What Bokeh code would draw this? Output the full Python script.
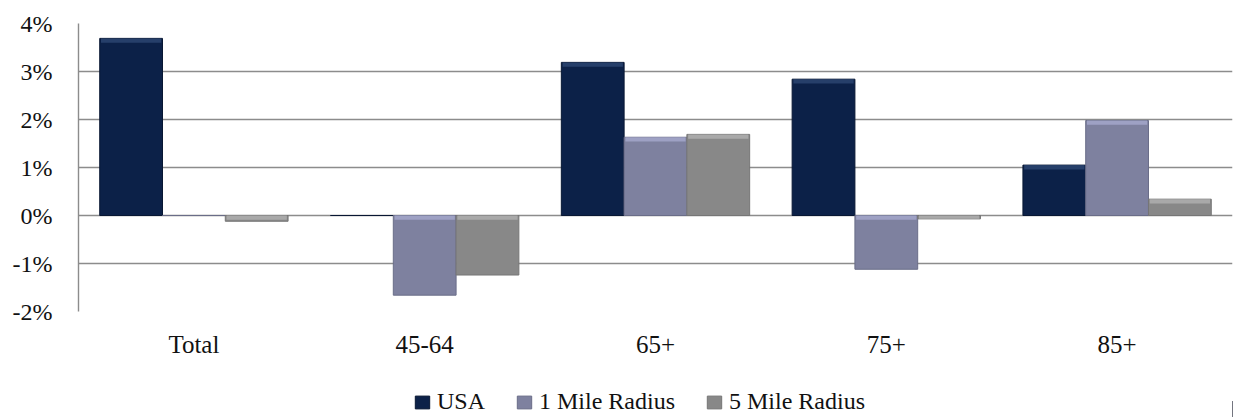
from bokeh.plotting import figure
from bokeh.layouts import column
from bokeh.models import ColumnDataSource, FactorRange, Legend, LegendItem, PrintfTickFormatter, FixedTicker
from bokeh.transform import dodge
from bokeh.embed import file_html
from bokeh.resources import INLINE

categories = ["Total", "45-64", "65+", "75+", "85+"]
usa = [3.69, 0.0, 3.19, 2.84, 1.05]
mile1 = [0.0, -1.66, 1.63, -1.12, 1.98]
mile5 = [-0.12, -1.24, 1.69, -0.07, 0.34]
series_names = ["USA", "1 Mile Radius", "5 Mile Radius"]
colors = ["#0c2148", "#7e819f", "#888888"]
edge_colors = ["#081733", "#6a6d88", "#767676"]
highlight_colors = ["#2f4a75", "#a9acd0", "#b4b4b4"]
y_ticks = [-2, -1, 0, 1, 2, 3, 4]

FONT = "Liberation Serif"
BAR_W = 0.272
BEVEL = 0.09

data = dict(cat=categories, usa=usa, mile1=mile1, mile5=mile5)
for key in ["usa", "mile1", "mile5"]:
    tops = [max(v, 0.0) for v in data[key]]
    data[key + "_hl_top"] = tops
    data[key + "_hl_bot"] = [t - min(BEVEL, abs(v)) for t, v in zip(tops, data[key])]
src = ColumnDataSource(data)

p = figure(width=1251, height=385, x_range=FactorRange(*categories), y_range=(-2, 4),
           output_backend="svg", toolbar_location=None,
           min_border_left=78, min_border_right=19, min_border_top=23, min_border_bottom=74)
p.outline_line_color = None
p.background_fill_color = "white"

for key, off, col, ec, hc in zip(["usa", "mile1", "mile5"], [-BAR_W, 0.0, BAR_W],
                                 colors, edge_colors, highlight_colors):
    p.vbar(x=dodge("cat", off, range=p.x_range), top=key, bottom=0, width=BAR_W,
           source=src, fill_color=col, line_color=ec, line_width=1)
    p.vbar(x=dodge("cat", off, range=p.x_range), top=key + "_hl_top", bottom=key + "_hl_bot",
           width=BAR_W * 0.96, source=src, fill_color=hc, fill_alpha=0.75, line_color=None)

p.xgrid.grid_line_color = None
p.ygrid.grid_line_color = "#8c8c8c"
p.ygrid.grid_line_width = 1.4
p.ygrid.ticker = FixedTicker(ticks=y_ticks)

p.yaxis.ticker = FixedTicker(ticks=y_ticks)
p.yaxis.formatter = PrintfTickFormatter(format="%d%%")
p.yaxis.axis_line_color = "#8c8c8c"
p.yaxis.axis_line_width = 1.4
p.yaxis.major_tick_line_color = None
p.yaxis.minor_tick_line_color = None
p.yaxis.major_label_standoff = 20
p.yaxis.major_label_text_font = FONT
p.yaxis.major_label_text_font_size = "24px"
p.yaxis.major_label_text_color = "#111111"

p.xaxis.axis_line_color = None
p.xaxis.major_tick_line_color = None
p.xaxis.minor_tick_line_color = None
p.xaxis.major_label_standoff = 13
p.xaxis.major_label_text_font = FONT
p.xaxis.major_label_text_font_size = "25px"
p.xaxis.major_label_text_color = "#111111"

# legend strip below the chart (its frame is aligned with the chart's frame)
lg = figure(width=1251, height=32, x_range=(0, 1), y_range=(0, 1),
            x_axis_type=None, y_axis_type=None, output_backend="svg", toolbar_location=None,
            min_border_left=0, min_border_right=0, min_border_top=0, min_border_bottom=0)
lg.outline_line_color = None
lg.xgrid.grid_line_color = None
lg.ygrid.grid_line_color = None
# key swatches: one off-range bar per series so the legend has a glyph to draw
key_renderers = [lg.vbar(x=[5], top=[0.5], width=0.1, fill_color=c, line_color=e)
                 for c, e in zip(colors, edge_colors)]
legend = Legend(items=[LegendItem(label=n, renderers=[r]) for n, r in zip(series_names, key_renderers)],
                orientation="horizontal", location=(335, 2),
                glyph_width=18, glyph_height=16, label_standoff=6, spacing=30,
                label_height=26, padding=0, margin=0,
                border_line_color=None, background_fill_alpha=0,
                label_text_font=FONT, label_text_font_size="24px", label_text_color="#111111")
lg.add_layout(legend)

layout = column(p, lg, spacing=0)
open("out.html", "w").write(file_html(layout, INLINE))
